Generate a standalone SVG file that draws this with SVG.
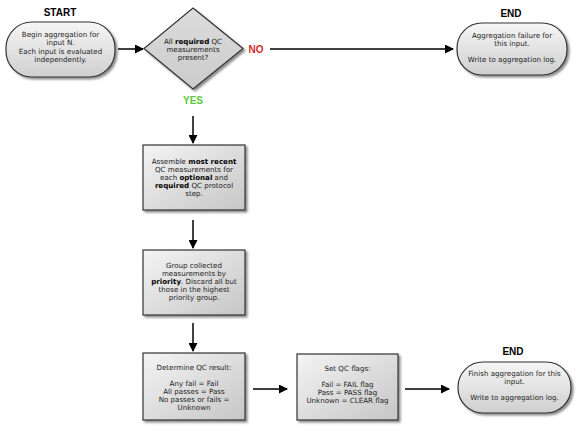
<svg xmlns="http://www.w3.org/2000/svg" width="576" height="432" viewBox="0 0 576 432">
<defs>
<linearGradient id="gPill" x1="0" y1="0" x2="0" y2="1">
<stop offset="0" stop-color="#f6f6f6"/>
<stop offset="1" stop-color="#cfcfcf"/>
</linearGradient>
<linearGradient id="gBox" x1="0" y1="0" x2="1" y2="1">
<stop offset="0" stop-color="#f4f4f4"/>
<stop offset="1" stop-color="#c6c6c6"/>
</linearGradient>
<linearGradient id="gDia" x1="0" y1="0" x2="0" y2="1">
<stop offset="0" stop-color="#dcdcdc"/>
<stop offset="1" stop-color="#cbcbcb"/>
</linearGradient>
<filter id="sh" x="-20%" y="-20%" width="150%" height="150%">
<feDropShadow dx="2" dy="2" stdDeviation="1.2" flood-color="#000" flood-opacity="0.45"/>
</filter>
<marker id="ah" markerWidth="9" markerHeight="9" refX="8" refY="4.5" orient="auto" markerUnits="userSpaceOnUse">
<path d="M0,0 L9,4.5 L0,9 z" fill="#000"/>
</marker>
</defs>
<style>
.shape{stroke:#333;stroke-width:1.2;filter:url(#sh)}
.pill{fill:url(#gPill)}
.box{fill:url(#gBox)}
.dia{fill:url(#gDia)}
.t{font-family:"DejaVu Sans",Verdana,sans-serif;font-size:7.1px;fill:#222;text-anchor:middle}
.b{font-weight:bold;fill:#000}
.lbl{font-family:"Liberation Sans",Arial,sans-serif;font-size:10px;font-weight:bold;text-anchor:middle}
.conn{stroke:#000;stroke-width:1.5;fill:none;marker-end:url(#ah)}
</style>
<rect width="576" height="432" fill="#fff"/>

<g id="connectors">
<line class="conn" x1="118" y1="49" x2="143" y2="49"/>
<line class="conn" x1="270" y1="49" x2="453" y2="49"/>
<line class="conn" x1="193" y1="116" x2="193" y2="143"/>
<line class="conn" x1="193" y1="220" x2="193" y2="248"/>
<line class="conn" x1="193" y1="323" x2="193" y2="351"/>
<line class="conn" x1="253" y1="389" x2="287" y2="389"/>
<line class="conn" x1="405" y1="389" x2="449" y2="389"/>
</g>

<g id="start">
<text class="lbl" x="60" y="16">START</text>
<rect class="shape pill" x="6" y="22" width="109" height="55" rx="26" ry="26"/>
<text class="t" x="60.5" y="37">Begin aggregation for</text>
<text class="t" x="60.5" y="45.3">input N.</text>
<text class="t" x="60.5" y="53.6">Each input is evaluated</text>
<text class="t" x="60.5" y="61.9">independently.</text>
</g>

<g id="decision">
<polygon class="shape dia" points="193,8 243,48.5 193,89 144,48.5"/>
<text class="t" x="193" y="43.5"><tspan>All </tspan><tspan class="b">required</tspan><tspan> QC</tspan></text>
<text class="t" x="193" y="51.5">measurements</text>
<text class="t" x="193" y="59.5">present?</text>
<text class="lbl" x="256" y="52.5" fill="#d42a2a">NO</text>
<text class="lbl" x="193" y="104" fill="#5cc83a">YES</text>
</g>

<g id="end1">
<text class="lbl" x="511" y="17">END</text>
<rect class="shape pill" x="457" y="23" width="110" height="52" rx="25" ry="25"/>
<text class="t" x="512" y="37.5">Aggregation failure for</text>
<text class="t" x="512" y="45.8">this input.</text>
<text class="t" x="512" y="62.4">Write to aggregation log.</text>
</g>

<g id="assemble">
<rect class="shape box" x="143" y="145" width="102" height="65"/>
<text class="t" x="194" y="163.5"><tspan>Assemble </tspan><tspan class="b">most recent</tspan></text>
<text class="t" x="194" y="171.5">QC measurements for</text>
<text class="t" x="194" y="179.5"><tspan>each </tspan><tspan class="b">optional</tspan><tspan> and</tspan></text>
<text class="t" x="194" y="187.5"><tspan class="b">required</tspan><tspan> QC protocol</tspan></text>
<text class="t" x="194" y="195.5">step.</text>
</g>

<g id="group">
<rect class="shape box" x="143" y="250" width="102" height="65"/>
<text class="t" x="194" y="268">Group collected</text>
<text class="t" x="194" y="276">measurements by</text>
<text class="t" x="194" y="284"><tspan class="b">priority</tspan><tspan>. Discard all but</tspan></text>
<text class="t" x="194" y="292">those in the highest</text>
<text class="t" x="194" y="300">priority group.</text>
</g>

<g id="determine">
<rect class="shape box" x="143" y="353" width="102" height="67"/>
<text class="t" x="194" y="370">Determine QC result:</text>
<text class="t" x="194" y="386">Any fail = Fail</text>
<text class="t" x="194" y="394">All passes = Pass</text>
<text class="t" x="194" y="402">No passes or fails =</text>
<text class="t" x="194" y="410">Unknown</text>
</g>

<g id="setflags">
<rect class="shape box" x="297" y="354" width="101" height="66"/>
<text class="t" x="347.5" y="371">Set QC flags:</text>
<text class="t" x="347.5" y="387">Fail = FAIL flag</text>
<text class="t" x="347.5" y="395">Pass = PASS flag</text>
<text class="t" x="347.5" y="403">Unknown = CLEAR flag</text>
</g>

<g id="end2">
<text class="lbl" x="513" y="355">END</text>
<rect class="shape pill" x="458" y="362" width="113" height="51" rx="25" ry="25"/>
<text class="t" x="514.5" y="375.5">Finish aggregation for this</text>
<text class="t" x="514.5" y="383.8">input.</text>
<text class="t" x="514.5" y="400.4">Write to aggregation log.</text>
</g>
</svg>
